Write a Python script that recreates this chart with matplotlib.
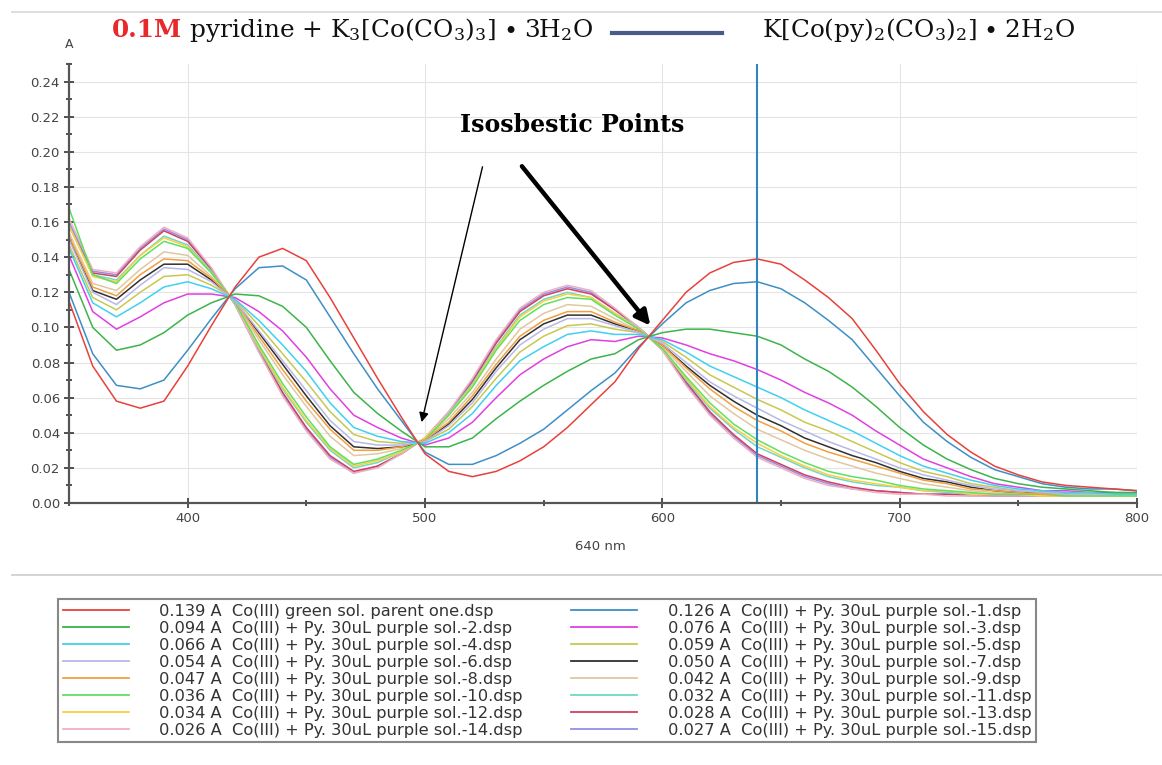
import matplotlib
matplotlib.use("Agg")
import matplotlib.pyplot as plt
from matplotlib.lines import Line2D
from matplotlib.ticker import MultipleLocator

plt.rcParams['mathtext.fontset'] = 'dejavuserif'

# wavelength grid (nm) and spectra
wavelength = list(range(350, 801, 10))

red_parent = [.115, .078, .058, .054, .058, .078, .101, .123, .140, .145, .138, .117, .094, .071, .049, .028,
              .018, .015, .018, .024, .032, .043, .056, .069, .088, .104, .120, .131, .137, .139, .136, .127,
              .117, .105, .087, .068, .052, .039, .029, .021, .016, .012, .010, .009, .008, .007]
sol_1 = [.120, .085, .067, .065, .070, .087, .105, .122, .134, .135, .127, .106, .085, .065, .047, .029,
         .022, .022, .027, .034, .042, .053, .064, .074, .089, .102, .114, .121, .125, .126, .122, .114,
         .104, .093, .077, .061, .046, .035, .026, .019, .015, .011, .009, .008, .008, .007]
sol_2 = [.133, .100, .087, .090, .097, .107, .114, .119, .118, .112, .100, .081, .063, .051, .041, .032,
         .032, .037, .048, .058, .067, .075, .082, .085, .093, .097, .099, .099, .097, .095, .090, .082,
         .075, .066, .055, .043, .033, .025, .019, .014, .011, .009, .008, .007, .006, .006]
sol_3 = [.141, .109, .099, .106, .114, .119, .119, .117, .109, .098, .083, .065, .050, .043, .037, .033,
         .037, .046, .060, .073, .082, .089, .093, .092, .095, .094, .090, .085, .081, .076, .070, .063,
         .057, .050, .041, .033, .025, .020, .015, .011, .009, .007, .007, .006, .006, .005]
sol_4 = [.145, .114, .106, .114, .123, .126, .122, .116, .104, .090, .075, .057, .043, .038, .035, .034,
         .040, .051, .067, .081, .089, .096, .098, .096, .096, .093, .086, .078, .072, .066, .060, .053,
         .047, .041, .034, .027, .021, .017, .013, .010, .008, .007, .006, .006, .005, .005]
sol_5 = [.147, .117, .110, .120, .129, .130, .124, .116, .101, .085, .069, .052, .039, .035, .034, .035,
         .042, .055, .071, .086, .095, .101, .102, .099, .097, .092, .083, .073, .066, .059, .053, .046,
         .041, .035, .029, .023, .018, .015, .011, .009, .007, .006, .006, .005, .005, .005]
sol_6 = [.150, .120, .113, .124, .134, .133, .126, .115, .098, .081, .064, .047, .035, .033, .033, .035,
         .044, .057, .075, .090, .099, .105, .105, .101, .097, .091, .080, .069, .061, .054, .047, .041,
         .035, .030, .025, .020, .016, .013, .010, .008, .007, .006, .005, .005, .005, .005]
sol_7 = [.151, .121, .116, .127, .136, .136, .127, .115, .097, .079, .061, .044, .032, .031, .032, .035,
         .045, .059, .077, .093, .102, .107, .107, .102, .098, .090, .078, .067, .058, .050, .044, .037,
         .032, .027, .023, .018, .014, .012, .009, .007, .006, .006, .005, .005, .005, .005]
sol_8 = [.152, .123, .118, .130, .139, .138, .128, .115, .095, .076, .058, .042, .030, .030, .032, .036,
         .046, .061, .079, .095, .104, .109, .109, .103, .098, .090, .077, .065, .055, .047, .041, .034,
         .029, .025, .021, .017, .013, .011, .008, .007, .006, .005, .005, .005, .005, .005]
sol_9 = [.154, .125, .121, .133, .143, .141, .129, .114, .093, .073, .055, .038, .027, .028, .031, .036,
         .048, .063, .082, .099, .108, .113, .112, .105, .098, .089, .075, .061, .051, .042, .036, .030,
         .025, .021, .017, .014, .011, .009, .007, .006, .006, .005, .005, .005, .004, .004]
sol_10 = [.168, .130, .125, .139, .149, .145, .131, .114, .090, .068, .049, .032, .022, .025, .030, .036,
          .050, .066, .087, .104, .113, .117, .116, .107, .099, .088, .072, .057, .045, .036, .029, .023,
          .018, .015, .013, .010, .008, .007, .006, .005, .005, .005, .004, .004, .004, .004]
sol_11 = [.158, .130, .127, .141, .152, .147, .132, .113, .088, .065, .046, .030, .020, .023, .029, .037,
          .051, .068, .089, .107, .116, .120, .117, .108, .100, .088, .070, .054, .042, .032, .026, .020,
          .015, .012, .010, .009, .007, .006, .005, .005, .005, .004, .004, .004, .004, .004]
sol_12 = [.158, .129, .126, .141, .151, .146, .131, .114, .089, .066, .047, .031, .021, .024, .029, .037,
          .050, .067, .088, .106, .115, .119, .117, .108, .099, .088, .071, .055, .043, .034, .027, .021,
          .016, .013, .011, .009, .007, .007, .005, .005, .005, .004, .004, .004, .004, .004]
sol_13 = [.158, .131, .129, .144, .155, .149, .133, .113, .087, .063, .043, .027, .018, .021, .028, .037,
          .051, .069, .091, .109, .118, .122, .119, .110, .100, .088, .069, .052, .039, .028, .022, .016,
          .012, .009, .007, .006, .005, .005, .005, .004, .004, .004, .004, .004, .004, .004]
sol_14 = [.162, .133, .131, .146, .157, .151, .134, .113, .086, .061, .041, .025, .017, .020, .028, .037,
          .052, .071, .093, .111, .120, .124, .121, .111, .100, .087, .067, .050, .037, .026, .020, .014,
          .010, .008, .006, .005, .005, .004, .004, .004, .004, .004, .004, .004, .004, .004]
sol_15 = [.160, .132, .130, .145, .156, .150, .133, .113, .086, .062, .042, .026, .017, .021, .028, .037,
          .052, .070, .092, .110, .119, .123, .120, .110, .100, .087, .068, .051, .038, .027, .021, .015,
          .011, .008, .007, .006, .005, .005, .004, .004, .004, .004, .004, .004, .004, .004]

# legend order: left column top-to-bottom, then right column
spectra = [red_parent, sol_2, sol_4, sol_6, sol_8, sol_10, sol_12, sol_14,
           sol_1, sol_3, sol_5, sol_7, sol_9, sol_11, sol_13, sol_15]
labels = ["0.139 A  Co(III) green sol. parent one.dsp",
          "0.094 A  Co(III) + Py. 30uL purple sol.-2.dsp",
          "0.066 A  Co(III) + Py. 30uL purple sol.-4.dsp",
          "0.054 A  Co(III) + Py. 30uL purple sol.-6.dsp",
          "0.047 A  Co(III) + Py. 30uL purple sol.-8.dsp",
          "0.036 A  Co(III) + Py. 30uL purple sol.-10.dsp",
          "0.034 A  Co(III) + Py. 30uL purple sol.-12.dsp",
          "0.026 A  Co(III) + Py. 30uL purple sol.-14.dsp",
          "0.126 A  Co(III) + Py. 30uL purple sol.-1.dsp",
          "0.076 A  Co(III) + Py. 30uL purple sol.-3.dsp",
          "0.059 A  Co(III) + Py. 30uL purple sol.-5.dsp",
          "0.050 A  Co(III) + Py. 30uL purple sol.-7.dsp",
          "0.042 A  Co(III) + Py. 30uL purple sol.-9.dsp",
          "0.032 A  Co(III) + Py. 30uL purple sol.-11.dsp",
          "0.028 A  Co(III) + Py. 30uL purple sol.-13.dsp",
          "0.027 A  Co(III) + Py. 30uL purple sol.-15.dsp"]
colors = ["#e8413c", "#3cb44a", "#40d0f0", "#b8b8e8", "#f0a040", "#60e060", "#f8d040", "#f0b0c0",
          "#3d8fc6", "#e040e0", "#c8c850", "#303030", "#e0c8a0", "#70d8c8", "#d04060", "#9090e8"]

cursor_nm = 640

W, H = 1162, 765
fig = plt.figure(figsize=(W / 100, H / 100), dpi=100)
ax = fig.add_axes([69 / W, 1 - 503 / H, (1137 - 69) / W, (503 - 64) / H])

ax.grid(True, which="major", color="#e4e4e4", lw=0.8)
ax.set_axisbelow(True)

# draw the last samples first so the parent/first curves sit on top
for i in range(len(spectra) - 1, -1, -1):
    ax.plot(wavelength, spectra[i], color=colors[i], lw=1.1)
handles = [Line2D([], [], color=c, lw=1.3) for c in colors]

ax.axvline(cursor_nm, color="#2e86c1", lw=1.5)

ax.set_xlim(350, 800)
ax.set_ylim(0, 0.25)
ax.xaxis.set_minor_locator(MultipleLocator(50))
ax.yaxis.set_minor_locator(MultipleLocator(0.01))
ax.set_xticks([400, 500, 600, 700, 800])
yt = [0.00, 0.02, 0.04, 0.06, 0.08, 0.10, 0.12, 0.14, 0.16, 0.18, 0.20, 0.22, 0.24]
ax.set_yticks(yt)
ax.set_yticklabels([f"{v:.2f}" for v in yt])
ax.tick_params(which="major", direction="inout", length=7, width=1.2, color="#333333",
               labelsize=9.5, labelcolor="#444444", pad=3)
ax.tick_params(which="minor", direction="inout", length=5, width=1.2, color="#333333")
for s in ["top", "right"]:
    ax.spines[s].set_visible(False)
for s in ["left", "bottom"]:
    ax.spines[s].set_color("#555555")
    ax.spines[s].set_linewidth(1.6)

fig.text(69 / W, 1 - 44 / H, "A", ha="center", va="center", fontsize=9, color="#444444")
fig.text(600 / W, 1 - 546 / H, "640 nm", ha="center", va="center", fontsize=9.5, color="#444444")

# annotation
fig.text(572 / W, 1 - 125 / H, "Isosbestic Points", ha="center", va="center",
         fontsize=17, fontweight="bold", family="DejaVu Serif")
ax.annotate("", xy=(498.3, 0.0445), xytext=(524.5, 0.193),
            arrowprops=dict(arrowstyle="-|>", color="black", lw=1.0, mutation_scale=14))
ax.annotate("", xy=(595.7, 0.0998), xytext=(540.1, 0.193),
            arrowprops=dict(arrowstyle="-|>", color="black", lw=3.2, mutation_scale=22))

# title row
title_y = 1 - 37 / H
t1 = fig.text(112 / W, title_y, "0.1M", ha="left", va="baseline", fontsize=17.8,
              fontweight="bold", color="#e8282a", family="DejaVu Serif")
renderer = fig.canvas.get_renderer()
x_after = t1.get_window_extent(renderer).x1 / W
fig.text(x_after, title_y, r" pyridine + K$_3$[Co(CO$_3$)$_3$] $\bullet$ 3H$_2$O", ha="left", va="baseline",
         fontsize=17.8, family="DejaVu Serif", color="#111111")
fig.add_artist(Line2D([612 / W, 722 / W], [1 - 33 / H, 1 - 33 / H], color="#4a5a8c", lw=3))
fig.text(762 / W, title_y, r"K[Co(py)$_2$(CO$_3$)$_2$] $\bullet$ 2H$_2$O", ha="left", va="baseline",
         fontsize=17.8, family="DejaVu Serif", color="#111111")

# separator lines
fig.add_artist(Line2D([0.01, 1], [1 - 12 / H, 1 - 12 / H], color="#d8d8d8", lw=1.2))
fig.add_artist(Line2D([0.01, 1], [1 - 575 / H, 1 - 575 / H], color="#cccccc", lw=1.2))

leg = fig.legend(handles, labels, ncol=2, loc="upper right", bbox_to_anchor=(1036 / W, 1 - 599 / H),
                 prop={"size": 11.7}, frameon=True, fancybox=False, edgecolor="#888888", framealpha=1,
                 handlelength=4.06, handletextpad=1.85, labelspacing=0.12, columnspacing=3.0,
                 borderpad=0.3, borderaxespad=0)
leg.get_frame().set_linewidth(1.5)
for t in leg.get_texts():
    t.set_color("#333333")

fig.savefig("out.png", dpi=100, facecolor="white")
